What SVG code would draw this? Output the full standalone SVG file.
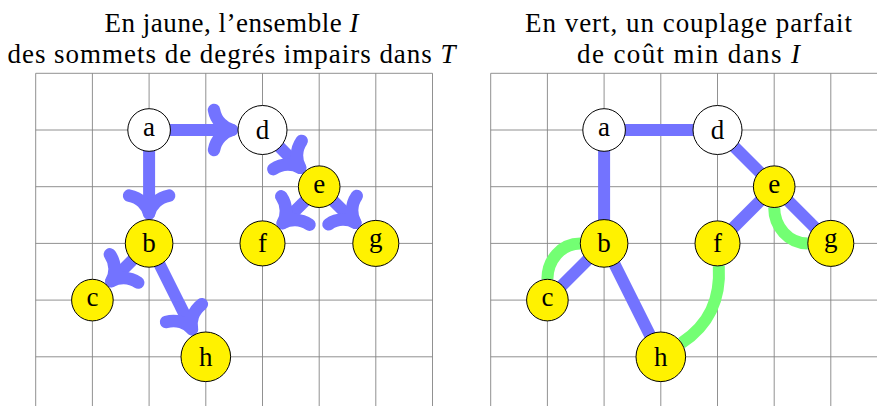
<svg xmlns="http://www.w3.org/2000/svg" width="877" height="406" viewBox="0 0 877 406">
  <style>
    .title { font-family: "Liberation Serif", "Times New Roman", serif; font-size: 27px; fill: #000; text-anchor: middle; }
    .it { font-style: italic; }
    .grid { stroke: #858585; stroke-width: 0.9; fill: none; }
    .arrow { stroke: #7373ff; stroke-width: 12; fill: none; stroke-linecap: round; marker-end: url(#ah); }
    .blue { stroke: #7373ff; stroke-width: 12; fill: none; stroke-linecap: butt; }
    .green { stroke: #73ff73; stroke-width: 12; fill: none; stroke-linecap: butt; }
    .node circle { stroke: #000; stroke-width: 1; }
    .white { fill: #ffffff; }
    .yellow { fill: #fff200; }
    .lbl { font-family: "Liberation Serif", "Times New Roman", serif; font-size: 27px; fill: #000; text-anchor: middle; }
  </style>
  <defs>
    <marker id="ah" markerUnits="userSpaceOnUse" orient="auto" refX="0" refY="0" markerWidth="1" markerHeight="1" overflow="visible">
      <path d="M -18,-20 C -16,-9 -8,-2 0,0 M -18,20 C -16,9 -8,2 0,0" fill="none" stroke="#7373ff" stroke-width="12.5" stroke-linecap="round" stroke-linejoin="round"/>
    </marker>
  </defs>

  <rect width="877" height="406" fill="#ffffff"/>

  <g id="titles">
    <text class="title" x="231.5" y="32.3" textLength="254" lengthAdjust="spacing">En jaune, l’ensemble <tspan class="it">I</tspan></text>
    <text class="title" x="231.5" y="63.3" textLength="448" lengthAdjust="spacing">des sommets de degrés impairs dans <tspan class="it">T</tspan></text>
    <text class="title" x="688.5" y="32.3" textLength="327" lengthAdjust="spacing">En vert, un couplage parfait</text>
    <text class="title" x="688.5" y="63.3" textLength="223" lengthAdjust="spacing">de coût min dans <tspan class="it">I</tspan></text>
  </g>

  <g id="grid-left">
    <path class="grid" d="M35.7,73.3V413.4 M92.4,73.3V413.4 M149.1,73.3V413.4 M205.8,73.3V413.4 M262.5,73.3V413.4 M319.2,73.3V413.4 M375.8,73.3V413.4 M432.5,73.3V413.4
      M35.7,73.3H432.5 M35.7,130H432.5 M35.7,186.7H432.5 M35.7,243.4H432.5 M35.7,300.1H432.5 M35.7,356.8H432.5 M35.7,413.4H432.5"/>
  </g>
  <g id="grid-right">
    <path class="grid" d="M490.7,73.3V413.4 M547.4,73.3V413.4 M604.1,73.3V413.4 M660.8,73.3V413.4 M717.5,73.3V413.4 M774.2,73.3V413.4 M830.8,73.3V413.4 M887.5,73.3V413.4
      M490.7,73.3H887.5 M490.7,130H887.5 M490.7,186.7H887.5 M490.7,243.4H887.5 M490.7,300.1H887.5 M490.7,356.8H887.5 M490.7,413.4H887.5"/>
  </g>

  <g id="connectors">
    <!-- left: oriented tree T -->
    <line class="arrow" x1="149.1" y1="151.3" x2="149.1" y2="213.6"/>
    <line class="arrow" x1="170.4" y1="130" x2="232" y2="130"/>
    <line class="arrow" x1="279.8" y1="147.3" x2="300.2" y2="167.8"/>
    <line class="arrow" x1="304.5" y1="201.4" x2="282.6" y2="223.2"/>
    <line class="arrow" x1="333.9" y1="201.4" x2="355.4" y2="222.8"/>
    <line class="arrow" x1="132.3" y1="260.2" x2="111.3" y2="281.2"/>
    <line class="arrow" x1="159.7" y1="264.6" x2="192" y2="329.2"/>
    <!-- right: tree edges -->
    <line class="blue" x1="604.1" y1="130" x2="717.5" y2="130"/>
    <line class="blue" x1="604.1" y1="130" x2="604.1" y2="243.4"/>
    <line class="blue" x1="717.5" y1="130" x2="774.2" y2="186.7"/>
    <line class="blue" x1="774.2" y1="186.7" x2="717.5" y2="243.4"/>
    <line class="blue" x1="774.2" y1="186.7" x2="830.8" y2="243.4"/>
    <line class="blue" x1="604.1" y1="243.4" x2="547.4" y2="300.1"/>
    <line class="blue" x1="604.1" y1="243.4" x2="660.8" y2="356.8"/>
    <!-- right: matching -->
    <path class="green" d="M547.4,279.2 C547.4,260.1 561.2,243.4 580.3,243.4"/>
    <path class="green" d="M774.2,207.5 C774.2,226.8 788.5,243.4 807.8,243.4"/>
    <path class="green" d="M718.8,265.9 C720.8,299.3 709.5,324.6 681.5,343.1"/>
  </g>

  <!-- left nodes -->
  <g id="L-a" class="node"><circle class="white" cx="149.1" cy="130" r="21.3"/><text class="lbl" x="149.1" y="136">a</text></g>
  <g id="L-d" class="node"><circle class="white" cx="262.5" cy="130" r="24.5"/><text class="lbl" x="262.5" y="139">d</text></g>
  <g id="L-e" class="node"><circle class="yellow" cx="319.2" cy="186.7" r="20.8"/><text class="lbl" x="319.2" y="192.7">e</text></g>
  <g id="L-b" class="node"><circle class="yellow" cx="149.1" cy="243.4" r="23.8"/><text class="lbl" x="149.1" y="252.4">b</text></g>
  <g id="L-f" class="node"><circle class="yellow" cx="262.5" cy="243.4" r="22.5"/><text class="lbl" x="262.5" y="252.4">f</text></g>
  <g id="L-g" class="node"><circle class="yellow" cx="375.8" cy="243.4" r="23"/><text class="lbl" x="375.8" y="247">g</text></g>
  <g id="L-c" class="node"><circle class="yellow" cx="92.4" cy="300.1" r="20.8"/><text class="lbl" x="92.4" y="306.1">c</text></g>
  <g id="L-h" class="node"><circle class="yellow" cx="205.8" cy="356.8" r="24.8"/><text class="lbl" x="205.8" y="365.8">h</text></g>

  <!-- right nodes -->
  <g id="R-a" class="node"><circle class="white" cx="604.1" cy="130" r="21.3"/><text class="lbl" x="604.1" y="136">a</text></g>
  <g id="R-d" class="node"><circle class="white" cx="717.5" cy="130" r="24.5"/><text class="lbl" x="717.5" y="139">d</text></g>
  <g id="R-e" class="node"><circle class="yellow" cx="774.2" cy="186.7" r="20.8"/><text class="lbl" x="774.2" y="192.7">e</text></g>
  <g id="R-b" class="node"><circle class="yellow" cx="604.1" cy="243.4" r="23.8"/><text class="lbl" x="604.1" y="252.4">b</text></g>
  <g id="R-f" class="node"><circle class="yellow" cx="717.5" cy="243.4" r="22.5"/><text class="lbl" x="717.5" y="252.4">f</text></g>
  <g id="R-g" class="node"><circle class="yellow" cx="830.8" cy="243.4" r="23"/><text class="lbl" x="830.8" y="247">g</text></g>
  <g id="R-c" class="node"><circle class="yellow" cx="547.4" cy="300.1" r="20.8"/><text class="lbl" x="547.4" y="306.1">c</text></g>
  <g id="R-h" class="node"><circle class="yellow" cx="660.8" cy="356.8" r="24.8"/><text class="lbl" x="660.8" y="365.8">h</text></g>
</svg>
